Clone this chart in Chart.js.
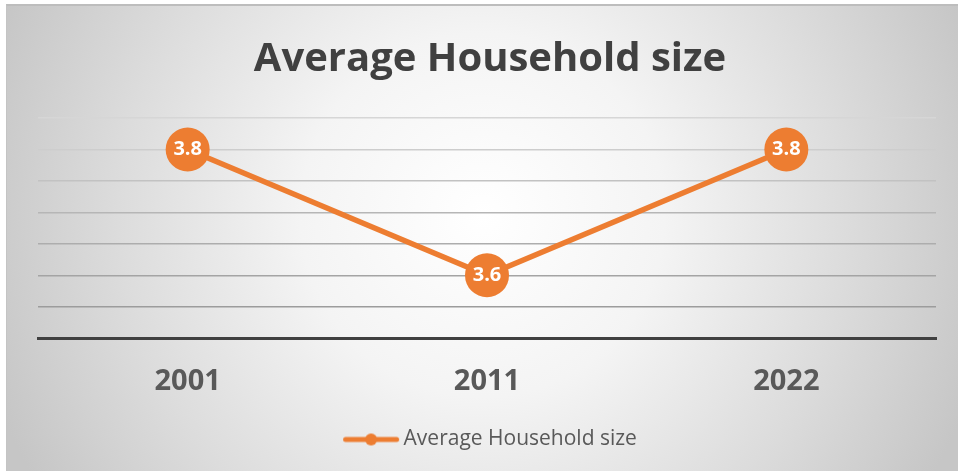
<!DOCTYPE html>
<html>
<head>
<meta charset="utf-8">
<title>Average Household size</title>
<script src="https://cdn.jsdelivr.net/npm/chart.js@4.4.1/dist/chart.umd.min.js"></script>
<style>
  html, body { margin: 0; padding: 0; background: #ffffff; }
  body { width: 958px; height: 471px; position: relative; overflow: hidden; }
  #chartBox {
    position: absolute;
    left: 6px; top: 4px;
    width: 952px; height: 467px;
    box-sizing: border-box;
    border-top: 2px solid #bdbdbd;
    border-left: 1px solid #c4c4c4;
    background: radial-gradient(circle 520px at 50% 45%, #ffffff 0%, #f4f4f4 35%, #dcdcdc 70%, #c6c6c6 100%);
  }
</style>
</head>
<body>
<div id="chartBox"><canvas id="householdChart"></canvas></div>
<script>
// --- Data ---
const years = ['2001', '2011', '2022'];
const householdSize = [3.8, 3.6, 3.8];
const seriesName = 'Average Household size';

const ORANGE = '#ED7D31';
const FONT = '"Open Sans", Lato, sans-serif';

// Legend marker: short line with a dot in the middle.
// The left strip is left transparent so the line sits close to the text.
function makeLegendMarker() {
    const c = document.createElement('canvas');
    c.width = 64; c.height = 14;
    const g = c.getContext('2d');
    g.strokeStyle = ORANGE;
    g.lineWidth = 5;
    g.lineCap = 'round';
    g.beginPath();
    g.moveTo(9.5, 7);
    g.lineTo(60.5, 7);
    g.stroke();
    g.fillStyle = ORANGE;
    g.beginPath();
    g.arc(35, 7, 6, 0, Math.PI * 2);
    g.fill();
    return c;
}

// Draws the value inside each marker
const valueLabels = {
    id: 'valueLabels',
    afterDatasetsDraw(chart) {
        const ctx = chart.ctx;
        const meta = chart.getDatasetMeta(0);
        const values = chart.data.datasets[0].data;
        ctx.save();
        ctx.fillStyle = '#ffffff';
        ctx.font = 'bold 20px ' + FONT;
        ctx.textAlign = 'center';
        ctx.textBaseline = 'middle';
        meta.data.forEach((pt, i) => {
            ctx.fillText(values[i].toFixed(1), pt.x, pt.y);
        });
        ctx.restore();
    }
};

// Gridlines get darker toward the bottom
const gridShades = ['#9a9a9a', '#9c9c9c', '#a4a4a4', '#adadad', '#b6b6b6', '#c2c2c2', '#cdcdcd', '#d6d6d6'];

const chart = new Chart(document.getElementById('householdChart'), {
    type: 'line',
    data: {
        labels: years,
        datasets: [{
            label: seriesName,
            data: householdSize,
            borderColor: ORANGE,
            backgroundColor: ORANGE,
            borderWidth: 5.5,
            pointRadius: 22,
            pointHoverRadius: 22,
            pointBackgroundColor: ORANGE,
            pointBorderColor: ORANGE,
            pointBorderWidth: 0,
            tension: 0,
            clip: false
        }]
    },
    options: {
        responsive: true,
        maintainAspectRatio: false,
        animation: false,
        layout: { padding: { left: 31, right: 16, top: 0, bottom: 11 } },
        scales: {
            x: {
                type: 'category',
                offset: true,
                grid: { display: false, drawTicks: false },
                border: { display: true, color: '#404040', width: 3 },
                ticks: {
                    color: '#595959',
                    padding: 26,
                    font: { family: FONT, size: 29, weight: 'bold' }
                }
            },
            y: {
                min: 3.5,
                max: 3.85,
                ticks: { display: false, stepSize: 0.05 },
                border: { display: false },
                grid: {
                    drawTicks: false,
                    lineWidth: 1.5,
                    color: (c) => gridShades[c.index] || '#d6d6d6'
                }
            }
        },
        plugins: {
            title: {
                display: true,
                text: seriesName,
                color: '#404040',
                font: { family: FONT, size: 40, weight: 'bold' },
                padding: { top: 30, bottom: 34 }
            },
            legend: {
                display: true,
                position: 'bottom',
                labels: {
                    usePointStyle: true,
                    pointStyle: makeLegendMarker(),
                    pointStyleWidth: 50,
                    color: '#595959',
                    padding: 4,
                    font: { family: FONT, size: 21 }
                }
            },
            tooltip: { enabled: false }
        }
    },
    plugins: [valueLabels]
});
</script>
</body>
</html>
